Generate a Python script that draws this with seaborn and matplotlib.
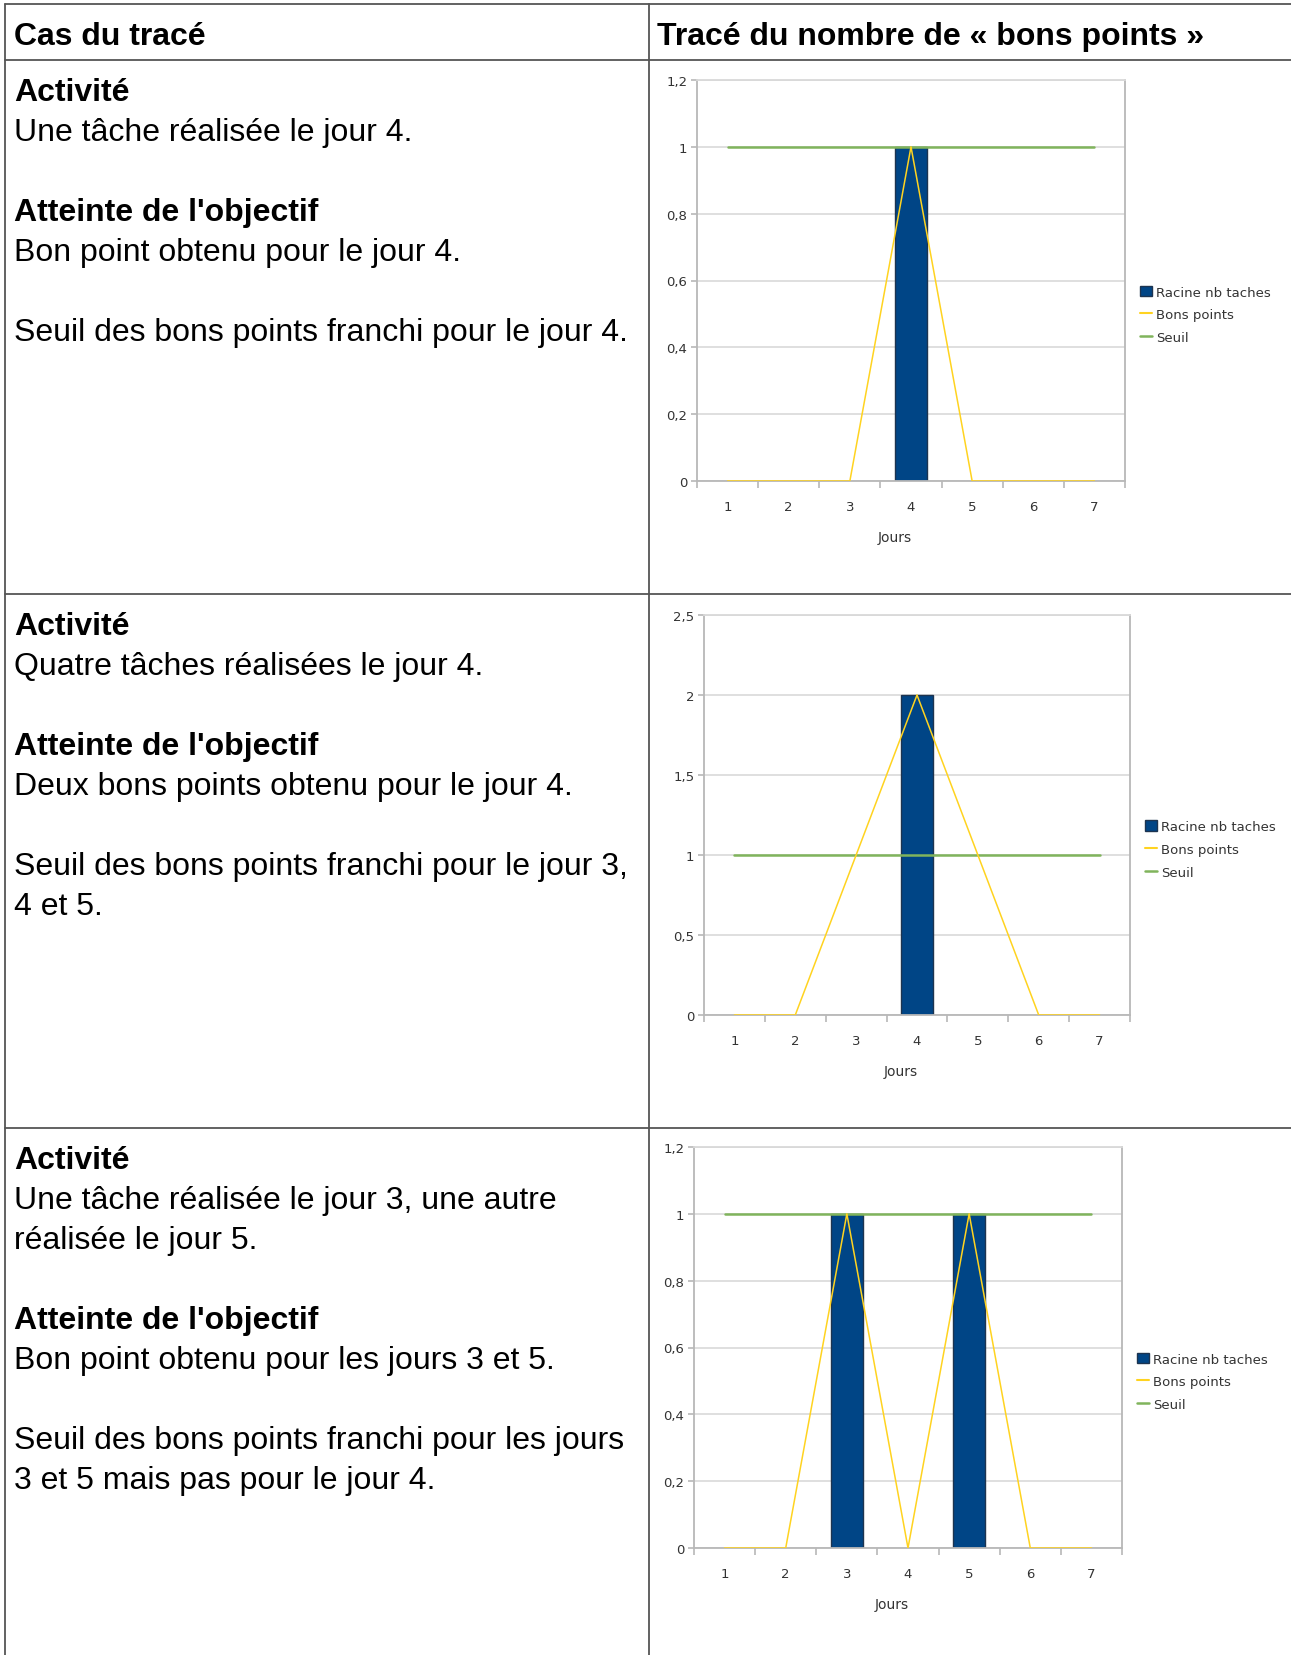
import numpy as np
import pandas as pd
import matplotlib
matplotlib.use("Agg")
import matplotlib.pyplot as plt
import seaborn as sns
from matplotlib.lines import Line2D
from matplotlib.patches import Patch
from matplotlib.ticker import FuncFormatter, FixedLocator

# ---------------- data ----------------
jours = [1, 2, 3, 4, 5, 6, 7]

racine_1 = [0, 0, 0, 1, 0, 0, 0]
bons_1 = [0, 0, 0, 1, 0, 0, 0]
seuil_1 = [1, 1, 1, 1, 1, 1, 1]

racine_2 = [0, 0, 0, 2, 0, 0, 0]
bons_2 = [0, 0, 1, 2, 1, 0, 0]
seuil_2 = [1, 1, 1, 1, 1, 1, 1]

racine_3 = [0, 0, 1, 0, 1, 0, 0]
bons_3 = [0, 0, 1, 0, 1, 0, 0]
seuil_3 = [1, 1, 1, 1, 1, 1, 1]

yticks_1 = [0, 0.2, 0.4, 0.6, 0.8, 1, 1.2]
yticks_2 = [0, 0.5, 1, 1.5, 2, 2.5]
yticks_3 = [0, 0.2, 0.4, 0.6, 0.8, 1, 1.2]

series_names = ["Racine nb taches", "Bons points", "Seuil"]
header_left = "Cas du tracé"
header_right = "Tracé du nombre de « bons points »"

texte_1 = [("Activité", True), ("Une tâche réalisée le jour 4.", False), ("", False),
           ("Atteinte de l'objectif", True), ("Bon point obtenu pour le jour 4.", False), ("", False),
           ("Seuil des bons points franchi pour le jour 4.", False)]
texte_2 = [("Activité", True), ("Quatre tâches réalisées le jour 4.", False), ("", False),
           ("Atteinte de l'objectif", True), ("Deux bons points obtenu pour le jour 4.", False), ("", False),
           ("Seuil des bons points franchi pour le jour 3,", False), ("4 et 5.", False)]
texte_3 = [("Activité", True), ("Une tâche réalisée le jour 3, une autre", False),
           ("réalisée le jour 5.", False), ("", False),
           ("Atteinte de l'objectif", True), ("Bon point obtenu pour les jours 3 et 5.", False), ("", False),
           ("Seuil des bons points franchi pour les jours", False), ("3 et 5 mais pas pour le jour 4.", False)]

# ---------------- style ----------------
sns.set_style("white")
plt.rcParams["font.family"] = ["DejaVu Sans"]

W, H = 1291, 1656
fig = plt.figure(figsize=(W / 100, H / 100), dpi=100)

def fx(x):
    return x / W

def fy(y):
    return 1 - y / H

BLUE = "#004586"
BLUE_EDGE = "#1d3450"
YELLOW = "#ffd320"
GREEN = "#80b45c"
GRID = "#d9d9d9"
AXIS = "#b8b8b8"
TICKTXT = "#333333"
TABLE = "#555555"

# ---------------- table ----------------
for y in [5, 61, 595, 1129]:
    fig.add_artist(Line2D([fx(5), fx(W)], [fy(y), fy(y)], color=TABLE, lw=1.3))
for x in [5, 649]:
    fig.add_artist(Line2D([fx(x), fx(x)], [fy(5), fy(H)], color=TABLE, lw=1.3))

TXT_FONT = "Liberation Sans"
fig.text(fx(14), fy(37), header_left, fontsize=23, fontweight="bold",
         family=TXT_FONT, va="center", ha="left", color="black")
fig.text(fx(657), fy(37), header_right, fontsize=23, fontweight="bold",
         family=TXT_FONT, va="center", ha="left", color="black")

def draw_text(lines, y0):
    for i, (t, b) in enumerate(lines):
        if t:
            fig.text(fx(14), fy(y0 + 40 * i), t, fontsize=23,
                     fontweight="bold" if b else "normal",
                     family=TXT_FONT, va="center", ha="left", color="black")

draw_text(texte_1, 93)
draw_text(texte_2, 627)
draw_text(texte_3, 1161)

# ---------------- charts ----------------
def comma(v, pos):
    s = ("%g" % v).replace(".", ",")
    return s

def chart(box, racine, bons, seuil, yticks):
    left, right, top, bottom = box
    ax = fig.add_axes([fx(left), fy(bottom), (right - left) / W, (bottom - top) / H])
    df = pd.DataFrame({"Jours": jours, "Racine": racine, "Bons": bons, "Seuil": seuil})
    sns.barplot(data=df, x="Jours", y="Racine", ax=ax, color=BLUE, width=0.52,
                edgecolor=BLUE_EDGE, linewidth=1.0, saturation=1, zorder=2)
    for p in ax.patches:
        if p.get_height() == 0:
            p.set_linewidth(0)
    xpos = np.arange(len(jours))
    sns.lineplot(x=xpos, y=df["Seuil"].values, ax=ax, color=GREEN, lw=1.8, zorder=3)
    sns.lineplot(x=xpos, y=df["Bons"].values, ax=ax, color=YELLOW, lw=1.1, zorder=4)

    ax.set_xlim(-0.5, len(jours) - 0.5)
    ax.set_ylim(yticks[0], yticks[-1])
    ax.yaxis.set_major_locator(FixedLocator(yticks))
    ax.yaxis.set_major_formatter(FuncFormatter(comma))
    ax.xaxis.set_major_locator(FixedLocator(list(xpos)))
    ax.set_xticklabels([str(j) for j in jours])
    ax.xaxis.set_minor_locator(FixedLocator(list(np.arange(len(jours) + 1) - 0.5)))

    ax.grid(axis="y", color=GRID, lw=1.2, zorder=0)
    ax.set_axisbelow(True)
    for s in ["left", "right", "bottom", "top"]:
        ax.spines[s].set_visible(True)
        ax.spines[s].set_color(AXIS)
        ax.spines[s].set_linewidth(1.3)
    ax.spines["top"].set_color(GRID)

    ax.tick_params(axis="y", which="major", direction="out", length=4, width=1.2,
                   color=AXIS, labelsize=9.5, labelcolor=TICKTXT, pad=3, left=True)
    ax.tick_params(axis="x", which="major", length=0, labelsize=9.5,
                   labelcolor=TICKTXT, pad=14, bottom=True)
    ax.tick_params(axis="x", which="minor", direction="out", length=5, width=1.2,
                   color=AXIS, bottom=True)
    ax.set_xlabel("Jours", fontsize=10, color=TICKTXT, labelpad=11)
    ax.xaxis.set_label_coords(0.463, -0.122)
    ax.set_ylabel("")
    if ax.get_legend():
        ax.get_legend().remove()

    handles = [Patch(facecolor=BLUE, edgecolor=BLUE_EDGE, linewidth=1.0),
               Line2D([], [], color=YELLOW, lw=1.5),
               Line2D([], [], color=GREEN, lw=1.8)]
    ax.legend(handles, series_names, loc="center left", bbox_to_anchor=(1.035, 0.414),
              frameon=False, fontsize=9.5, handlelength=0.9, handleheight=0.9,
              handletextpad=0.3, labelspacing=0.75, borderpad=0, borderaxespad=0,
              labelcolor=TICKTXT)
    return ax

chart((697, 1125, 81, 482), racine_1, bons_1, seuil_1, yticks_1)
chart((704, 1130, 616, 1016), racine_2, bons_2, seuil_2, yticks_2)
chart((694, 1122, 1148, 1549), racine_3, bons_3, seuil_3, yticks_3)

fig.savefig("out.png", dpi=100, facecolor="white")
